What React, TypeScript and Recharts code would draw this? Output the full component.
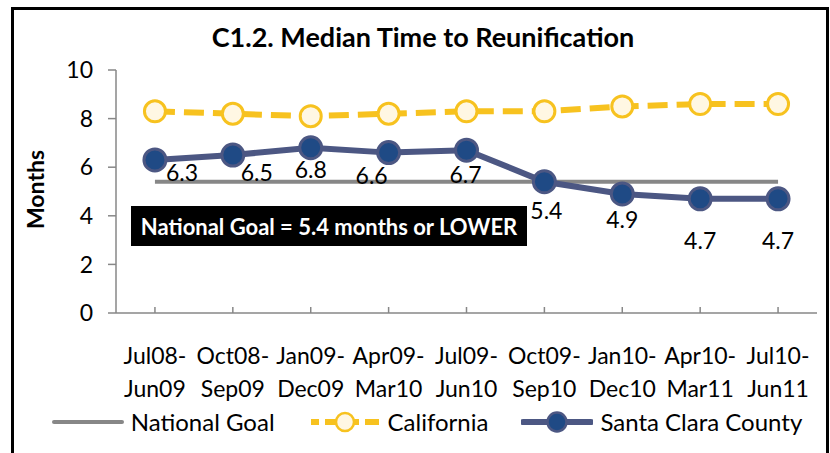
import React from "react";
import {
  ComposedChart,
  Line,
  XAxis,
  YAxis,
  Legend,
  LabelList,
  Label,
} from "recharts";

const periods = [
  "Jul08-Jun09",
  "Oct08-Sep09",
  "Jan09-Dec09",
  "Apr09-Mar10",
  "Jul09-Jun10",
  "Oct09-Sep10",
  "Jan10-Dec10",
  "Apr10-Mar11",
  "Jul10-Jun11",
];
const nationalGoal = [5.4, 5.4, 5.4, 5.4, 5.4, 5.4, 5.4, 5.4, 5.4];
const california = [8.3, 8.2, 8.1, 8.2, 8.3, 8.3, 8.5, 8.6, 8.6];
const santaClara = [6.3, 6.5, 6.8, 6.6, 6.7, 5.4, 4.9, 4.7, 4.7];
const yTicks = [0, 2, 4, 6, 8, 10];

const data = periods.map((p, i) => ({
  period: p,
  goal: nationalGoal[i],
  california: california[i],
  santaClara: santaClara[i],
}));

const FONT = "Lato, 'Open Sans', sans-serif";
const GOLD = "#F7C21F";
const CREAM = "#FFF7E3";
const SLATE = "#4C5783";
const NAVY = "#1F4A85";
const GRAY = "#878787";

// label placement offsets (style only)
const LABEL_OFFSETS: [number, number][] = [
  [27, 12],
  [24, 17],
  [0, 21],
  [-17, 22],
  [-1, 24],
  [2, 28],
  [0, 25],
  [0, 41],
  [0, 41],
];

const XTick = (props: any) => {
  const { x, y, payload } = props;
  const s: string = payload.value;
  const idx = s.indexOf("-");
  const l1 = s.slice(0, idx + 1);
  const l2 = s.slice(idx + 1);
  return (
    <g>
      <text x={x} y={y + 42} textAnchor="middle" dominantBaseline="central" fontFamily={FONT} fontSize={23} fill="#000">
        {l1}
      </text>
      <text x={x} y={y + 75} textAnchor="middle" dominantBaseline="central" fontFamily={FONT} fontSize={23} fill="#000">
        {l2}
      </text>
    </g>
  );
};

const renderLabel = (props: any) => {
  const { x, y, value, index } = props;
  const [dx, dy] = LABEL_OFFSETS[index] || [0, 22];
  return (
    <text x={x + dx} y={y + dy} textAnchor="middle" dominantBaseline="central" fontFamily={FONT} fontSize={23} fill="#000">
      {Number(value).toFixed(1)}
    </text>
  );
};

const LegendContent = () => {
  const item = (sym: React.ReactNode, text: string, mr: number) => (
    <div style={{ display: "flex", alignItems: "center", marginRight: mr }}>
      <svg width={72} height={26} style={{ marginRight: 7 }}>
        {sym}
      </svg>
      <span style={{ fontFamily: FONT, fontSize: 24, color: "#000" }}>{text}</span>
    </div>
  );
  return (
    <div style={{ display: "flex", justifyContent: "center", alignItems: "center", paddingLeft: 14 }}>
      {item(<line x1={2} y1={13} x2={70} y2={13} stroke={GRAY} strokeWidth={4} strokeLinecap="round" />, "National Goal", 34)}
      {item(
        <g>
          <line x1={2} y1={13} x2={70} y2={13} stroke={GOLD} strokeWidth={6} strokeDasharray="8 6 20 6" strokeLinecap="butt" />
          <circle cx={36} cy={13} r={9} fill={CREAM} stroke={GOLD} strokeWidth={2.5} />
        </g>,
        "California",
        33
      )}
      {item(
        <g>
          <line x1={2} y1={13} x2={70} y2={13} stroke={SLATE} strokeWidth={6} strokeLinecap="round" />
          <circle cx={36} cy={13} r={9.5} fill={NAVY} stroke={SLATE} strokeWidth={2.5} />
        </g>,
        "Santa Clara County",
        0
      )}
    </div>
  );
};

export default function App() {
  return (
    <div
      style={{
        position: "absolute",
        left: 11,
        top: 7,
        width: 812,
        height: 443,
        borderTop: "3px solid #000",
        borderLeft: "3px solid #000",
        borderRight: "3px solid #000",
        background: "#fff",
      }}
    >
      <div
        style={{
          position: "absolute",
          left: 0,
          width: 818,
          top: 11,
          textAlign: "center",
          fontFamily: FONT,
          fontWeight: 700,
          fontSize: 27,
          color: "#000",
          lineHeight: "32px",
        }}
      >
        C1.2. Median Time to Reunification
      </div>
      <ComposedChart
        width={812}
        height={443}
        data={data}
        margin={{ top: 60, right: 9, bottom: 40, left: 0 }}
      >
        <XAxis
          dataKey="period"
          scale="band"
          height={100}
          tickSize={-6}
          tickMargin={6}
          interval={0}
          tick={<XTick />}
          axisLine={{ stroke: GRAY, strokeWidth: 1.5 }}
          tickLine={{ stroke: GRAY, strokeWidth: 1.5 }}
        />
        <YAxis
          type="number"
          domain={[0, 10]}
          ticks={yTicks}
          width={102}
          tickSize={8}
          tickMargin={15}
          interval={0}
          axisLine={{ stroke: GRAY, strokeWidth: 1.5 }}
          tickLine={{ stroke: GRAY, strokeWidth: 1.5 }}
          tick={{ fontFamily: FONT, fontSize: 23, fill: "#000" }}
        >
          <Label
            content={(p: any) => {
              const vb = p.viewBox || {};
              const cx = 21;
              const cy = (vb.y ?? 60) + (vb.height ?? 243) / 2 - 2;
              return (
                <text
                  x={cx}
                  y={cy}
                  transform={`rotate(-90 ${cx} ${cy})`}
                  textAnchor="middle"
                  dominantBaseline="central"
                  fontFamily={FONT}
                  fontWeight={700}
                  fontSize={23}
                  fill="#000"
                >
                  Months
                </text>
              );
            }}
          />
        </YAxis>
        <Legend
          verticalAlign="middle"
          layout="horizontal"
          content={<LegendContent />}
          wrapperStyle={{ top: 397, left: 0, width: 812 }}
        />
        <Line
          dataKey="goal"
          name="National Goal"
          stroke={GRAY}
          strokeWidth={4}
          dot={false}
          activeDot={false}
          isAnimationActive={false}
        />
        <Line
          dataKey="california"
          name="California"
          stroke={GOLD}
          strokeWidth={6}
          strokeDasharray="20 9"
          dot={{ r: 10.5, fill: CREAM, stroke: GOLD, strokeWidth: 3, strokeDasharray: "" }}
          activeDot={false}
          isAnimationActive={false}
        />
        <Line
          dataKey="santaClara"
          name="Santa Clara County"
          stroke={SLATE}
          strokeWidth={6}
          dot={{ r: 11, fill: NAVY, stroke: SLATE, strokeWidth: 3 }}
          activeDot={false}
          isAnimationActive={false}
        >
          <LabelList dataKey="santaClara" content={renderLabel} />
        </Line>
      </ComposedChart>
      <div
        style={{
          position: "absolute",
          left: 117,
          top: 196,
          width: 396,
          height: 40,
          background: "#000",
          color: "#fff",
          fontFamily: FONT,
          fontWeight: 700,
          fontSize: 22,
          display: "flex",
          alignItems: "center",
          justifyContent: "center",
        }}
      >
        National Goal = 5.4 months or LOWER
      </div>
    </div>
  );
}
